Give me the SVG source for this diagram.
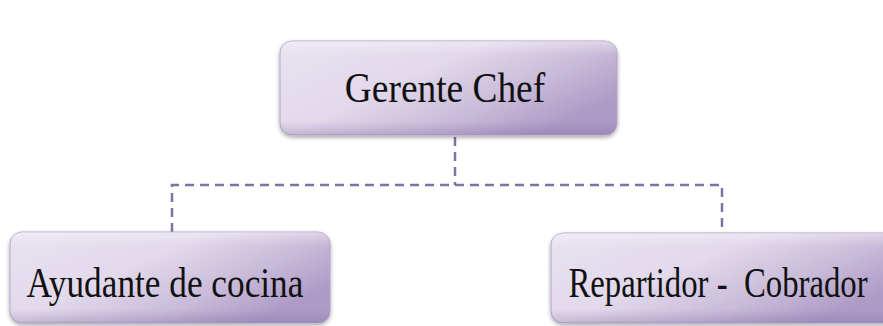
<svg xmlns="http://www.w3.org/2000/svg" width="883" height="326" viewBox="0 0 883 326">
<defs>
<linearGradient id="g" x1="0" y1="0" x2="1" y2="0.6">
<stop offset="0" stop-color="#e9e3f0"/>
<stop offset="0.45" stop-color="#e2d9eb"/>
<stop offset="0.75" stop-color="#c9bbd9"/>
<stop offset="1" stop-color="#ad9bc6"/>
</linearGradient>
<linearGradient id="v" x1="0" y1="0" x2="0" y2="1">
<stop offset="0" stop-color="#ffffff" stop-opacity="0.35"/>
<stop offset="0.15" stop-color="#ffffff" stop-opacity="0"/>
<stop offset="0.85" stop-color="#6a5590" stop-opacity="0"/>
<stop offset="1" stop-color="#6a5590" stop-opacity="0.25"/>
</linearGradient>
<filter id="sh" x="-5%" y="-10%" width="110%" height="125%">
<feGaussianBlur in="SourceAlpha" stdDeviation="2"/>
<feOffset dx="0" dy="2" result="b"/>
<feComponentTransfer><feFuncA type="linear" slope="0.35"/></feComponentTransfer>
<feMerge><feMergeNode/><feMergeNode in="SourceGraphic"/></feMerge>
</filter>
</defs>
<style>
.box{fill:url(#g);stroke:#b3a4c9;stroke-width:1;filter:url(#sh)}
.hl{fill:url(#v)}
.t{font-family:"Liberation Serif","Times New Roman",serif;font-size:42px;fill:#111;text-anchor:middle}
.c{fill:none;stroke:#8272a4;stroke-width:2.5;stroke-dasharray:9 6}
</style>
<rect width="883" height="326" fill="#ffffff"/>
<g id="connectors">
<path class="c" d="M455 137 V185"/>
<path class="c" d="M172 232 V185 H722 V232"/>
</g>
<g id="gerente">
<rect class="box" x="280" y="41" width="337" height="94" rx="12"/>
<rect class="hl" x="280" y="41" width="337" height="94" rx="12"/>
<text class="t" transform="translate(445,102) scale(0.89,1)">Gerente Chef</text>
</g>
<g id="ayudante">
<rect class="box" x="10" y="232" width="320" height="91" rx="12"/>
<rect class="hl" x="10" y="232" width="320" height="91" rx="12"/>
<text class="t" transform="translate(165,297) scale(0.84,1)">Ayudante de cocina</text>
</g>
<g id="repartidor">
<rect class="box" x="551" y="233" width="345" height="90" rx="12"/>
<rect class="hl" x="551" y="233" width="345" height="90" rx="12"/>
<text class="t" transform="translate(718,297) scale(0.78,1)" xml:space="preserve">Repartidor -  Cobrador</text>
</g>
</svg>
